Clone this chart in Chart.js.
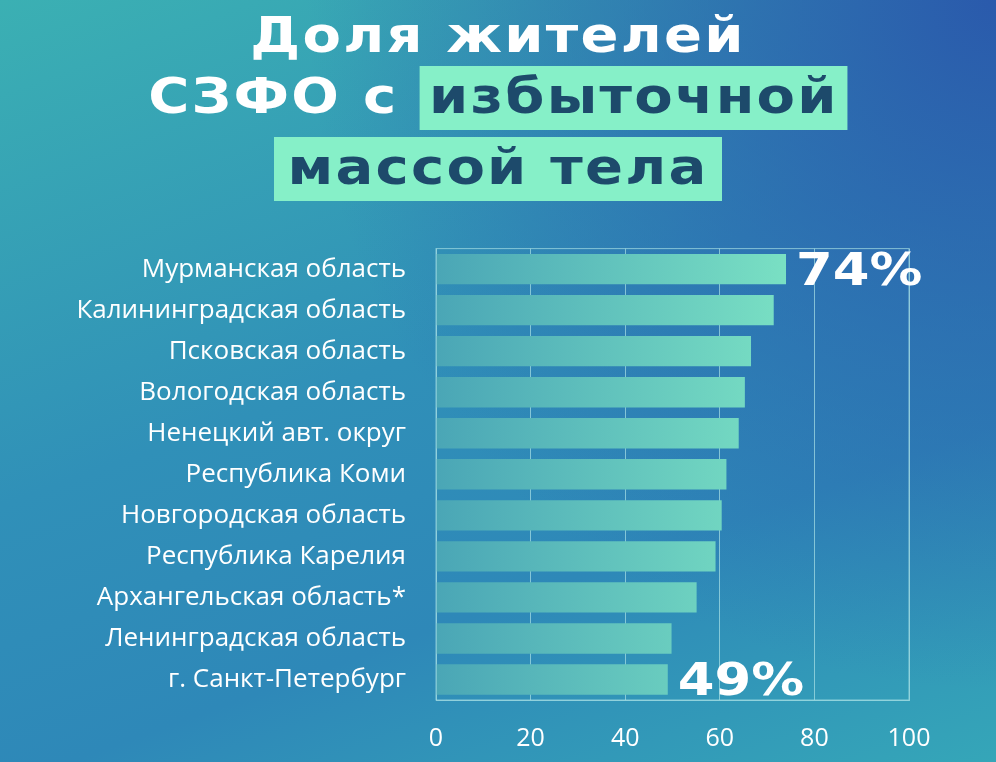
<!DOCTYPE html>
<html>
<head>
<meta charset="utf-8">
<script src="https://cdn.jsdelivr.net/npm/chart.js@4"></script>
<style>
  body { margin:0; width:996px; height:762px; overflow:hidden;
    background: linear-gradient(160deg, #3bb0b3 0%, #3090b8 45%, #2e88b8 70%, #35a6b8 100%); position:relative;
    font-family: "DejaVu Sans", sans-serif; }
  .glow { position:absolute; inset:0; background: radial-gradient(circle at 100% 0%, #2a5aac 0%, rgba(42,90,172,0) 55%); }
  .t { position:absolute; left:0; width:996px; text-align:center; color:#fff; font-weight:bold; font-size:50px;
    letter-spacing:2px; transform:scaleX(1.12); transform-origin:498px 0; }
  .hl { background:#86f0c8; color:#1d4a6b; padding:0 8px; display:inline-block; height:64px; line-height:60px; }
  #chart { position:absolute; left:0; top:211px; }
</style>
</head>
<body>
<div class="glow"></div>
<div class="t" style="top:6px">Доля жителей</div>
<div class="t" style="top:66px">СЗФО с <span class="hl">избыточной</span></div>
<div class="t" style="top:137px"><span class="hl" style="padding:0 12px">массой тела</span></div>
<canvas id="chart" width="996" height="567"></canvas>
<script>
var regions = ['Мурманская область', 'Калининградская область', 'Псковская область', 'Вологодская область',
  'Ненецкий авт. округ', 'Республика Коми', 'Новгородская область', 'Республика Карелия',
  'Архангельская область*', 'Ленинградская область', 'г. Санкт-Петербург'];
var shares = [74, 71.4, 66.6, 65.3, 64, 61.4, 60.4, 59.1, 55.1, 49.8, 49];
var calloutLabels = { 0: '74%', 10: '49%' };
var xTicks = [0, 20, 40, 60, 80, 100];

var gridColor = 'rgba(170,225,230,0.7)';

var callouts = {
  id: 'callouts',
  afterDatasetsDraw(chart) {
    var ctx = chart.ctx, a = chart.chartArea;
    ctx.save();
    ctx.strokeStyle = gridColor; ctx.lineWidth = 1;
    ctx.strokeRect(a.left, a.top, a.right - a.left, a.bottom - a.top);
    var meta = chart.getDatasetMeta(0);
    ctx.fillStyle = '#fff';
    ctx.font = 'bold 44px "DejaVu Sans"';
    ctx.textBaseline = 'middle';
    for (var i in calloutLabels) {
      var bar = meta.data[i];
      ctx.save();
      ctx.translate(bar.x + 10, bar.y + 4);
      ctx.scale(1.2, 1);
      ctx.fillText(calloutLabels[i], 0, 0);
      ctx.restore();
    }
    ctx.restore();
  }
};

new Chart(document.getElementById('chart'), {
  type: 'bar',
  data: {
    labels: regions,
    datasets: [{
      data: shares,
      barPercentage: 0.74,
      categoryPercentage: 1,
      backgroundColor: function(c) {
        var a = c.chart.chartArea;
        if (!a || !c.element) return '#86f0c8';
        var g = c.chart.ctx.createLinearGradient(a.left, 0, c.element.x || a.right, 0);
        g.addColorStop(0, '#4aa6b6');
        g.addColorStop(1, '#8af4c8');
        return g;
      }
    }]
  },
  options: {
    indexAxis: 'y',
    responsive: false,
    animation: false,
    layout: { padding: { top: 12, right: 87, bottom: 0 } },
    plugins: { legend: { display: false }, tooltip: { enabled: false } },
    scales: {
      x: {
        min: 0, max: 100,
        afterBuildTicks: function(s) { s.ticks = xTicks.map(function(v) { return { value: v }; }); },
        grid: { color: gridColor, drawTicks: false },
        border: { color: gridColor },
        ticks: { color: '#fff', font: { family: 'Open Sans', size: 25 }, padding: 24 }
      },
      y: {
        afterFit: function(s) { s.width = 436; },
        grid: { display: false },
        border: { display: false },
        ticks: { color: '#fff', font: { family: 'Open Sans', size: 26 }, padding: 22 }
      }
    }
  },
  plugins: [callouts]
});
</script>
</body>
</html>
